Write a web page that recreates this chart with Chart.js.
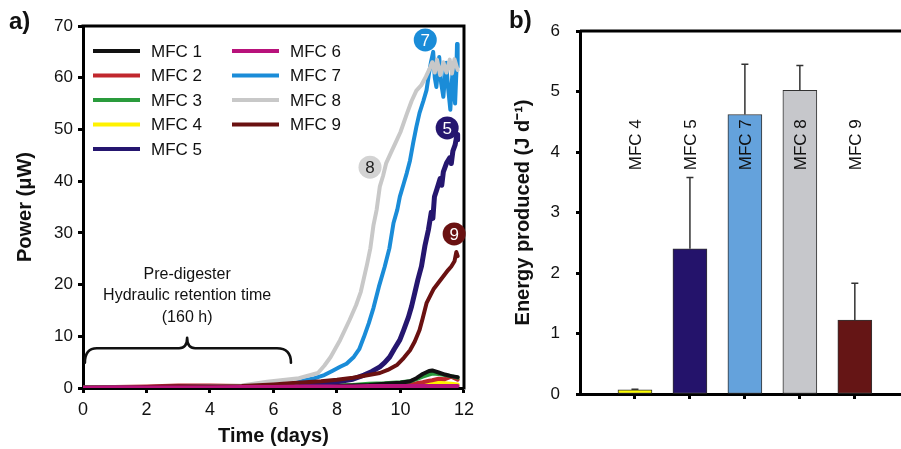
<!DOCTYPE html>
<html><head><meta charset="utf-8">
<script src="https://cdn.jsdelivr.net/npm/chart.js@4.4.1/dist/chart.umd.min.js"></script>
<style>
html,body{margin:0;padding:0;background:#fff;}
#wrap{position:relative;width:901px;height:449px;overflow:hidden;background:#fff}
#cA{position:absolute;left:0;top:0}
#cB{position:absolute;left:480px;top:0}
</style></head><body>
<div id="wrap"><canvas id="cA" width="480" height="449"></canvas><canvas id="cB" width="421" height="449"></canvas></div>
<script>
// ---------------- DATA ----------------
const seriesNames = ['MFC 1','MFC 2','MFC 3','MFC 4','MFC 5','MFC 6','MFC 7','MFC 8','MFC 9'];
const seriesColors = ['#111111','#c1272d','#2a9b3c','#fff200','#25166f','#b8127b','#1a8cd8','#c8c8c8','#6a1111'];

// Low-output cells (shared time grid, days)
const lowDays   = [0, 1, 2, 3, 4, 5, 6, 7, 8, 8.5, 9, 9.5, 10, 10.3, 10.5, 10.7, 10.9, 11.0, 11.2, 11.4, 11.6, 11.8];
const mfc1Power = [0.1,0.1,0.1,0.2,0.2,0.2,0.2,0.3,0.4,0.5,0.6,0.8,1.0,1.3,1.9,2.7,3.3,3.4,3.0,2.6,2.3,2.1];
const mfc2Power = [0.1,0.2,0.3,0.5,0.5,0.4,0.3,0.3,0.4,0.5,0.5,0.6,0.7,0.8,0.9,1.1,1.4,1.5,1.8,1.7,2.2,1.6];
const mfc3Power = [0,0,0.1,0.1,0.1,0.1,0.2,0.3,0.5,0.6,0.8,0.9,1.1,1.3,1.7,2.2,2.6,2.8,2.7,2.5,2.3,2.0];
const mfc4Power = [0,0,0,0,0,0,0.1,0.1,0.2,0.3,0.4,0.5,0.6,0.7,0.8,0.9,1.0,1.1,1.0,0.9,0.8,0.7];
const mfc6Power = [0,0.1,0.1,0.1,0.1,0.2,0.2,0.3,0.3,0.3,0.4,0.4,0.4,0.4,0.4,0.4,0.4,0.4,0.4,0.4,0.4,0.4];

// MFC 5
const mfc5Days  = [0,2,4,6,7,8,8.5,8.85,9.1,9.35,9.5,9.66,9.8,9.98,10.1,10.25,10.35,10.45,10.55,10.66,10.77,10.88,10.97,11.02,11.07,11.15,11.25,11.3,11.35,11.45,11.55,11.6,11.65,11.72,11.78,11.8];
const mfc5Power = [0,0.1,0.2,0.3,0.6,1.2,1.7,2.5,3.2,4.1,4.9,6.0,7.5,9.3,11.2,13.7,15.8,18.4,21.0,23.5,27.5,30.6,34.0,32.8,37.0,38.5,40.5,39.2,41.8,43.5,44.5,43.4,45.8,47.0,49.0,48.0];

// MFC 7
const mfc7Days  = [0,2,4,5,6,6.5,7.0,7.3,7.6,7.85,8.1,8.3,8.53,8.7,8.85,9.0,9.15,9.32,9.5,9.65,9.78,9.9,9.98,10.1,10.2,10.3,10.4,10.5,10.6,10.72,10.82,10.9,10.96,11.03,11.08,11.13,11.18,11.22,11.28,11.35,11.4,11.44,11.5,11.57,11.61,11.65,11.69,11.72,11.76,11.78,11.8];
const mfc7Power = [0,0,0,0.1,0.3,0.6,1.5,1.9,2.5,3.3,4.1,4.7,6.0,7.5,9.9,12.5,15.5,19.6,23.4,27.0,31.9,34.5,37.0,39.5,41.6,44.0,47.4,50.5,53.2,55.5,57.6,60.9,63.0,65.0,60.0,58.2,61.5,64.0,59.0,56.3,60.0,62.9,58.0,53.8,58.5,62.0,57.0,55.0,61.0,66.5,62.0];

// MFC 8
const mfc8Days  = [0,1,2,3,4,5,5.8,6.8,7.4,7.6,7.8,8.1,8.4,8.6,8.75,8.95,9.05,9.15,9.25,9.35,9.45,9.55,9.7,9.85,10.0,10.2,10.35,10.5,10.65,10.8,10.9,11.0,11.08,11.15,11.25,11.35,11.45,11.55,11.62,11.7,11.8];
const mfc8Power = [0.1,0.1,0.2,0.2,0.3,0.5,1.2,1.9,2.9,4.3,6.0,9.3,13.2,16.0,18.6,24.0,27.0,31.5,34.5,39.0,41.0,43.5,45.5,47.5,49.5,53.0,55.5,57.5,58.5,60.2,61.5,63.0,61.0,63.5,60.5,63.0,61.0,63.5,60.8,63.6,61.5];

// MFC 9
const mfc9Days  = [0,1,2,3,4,5,6,6.5,7,7.5,8,8.5,9,9.35,9.6,9.9,10.1,10.3,10.45,10.6,10.7,10.82,10.95,11.05,11.2,11.35,11.5,11.6,11.7,11.76,11.8];
const mfc9Power = [0.1,0.1,0.2,0.3,0.3,0.4,0.7,0.9,1.1,1.3,1.6,2.0,2.5,2.9,3.5,4.5,5.8,7.3,9.0,11.2,13.5,16.4,18.0,19.2,20.4,21.6,22.8,23.5,24.5,26.3,25.5];

const timeTicks  = [0,2,4,6,8,10,12];
const powerTicks = [0,10,20,30,40,50,60,70];

// Panel b
const energyLabels = ['MFC 4','MFC 5','MFC 7','MFC 8','MFC 9'];
const energyValues = [0.07, 2.40, 4.62, 5.02, 1.22];
const energyErrors = [0.01, 1.18, 0.83, 0.41, 0.61];
const energyColors = ['#ffff00','#24136b','#64a2dc','#c6c7cb','#651515'];
const energyTicks  = [0,1,2,3,4,5,6];

// ---------------- CHART A ----------------
const FONT = "'Liberation Sans', Arial, Helvetica, sans-serif";
Chart.defaults.font.family = FONT;
Chart.defaults.color = '#111';

function pts(days, vals){ return days.map((d,i)=>({x:d, y:vals[i]})); }
const seriesData = [
  pts(lowDays, mfc1Power), pts(lowDays, mfc2Power), pts(lowDays, mfc3Power), pts(lowDays, mfc4Power),
  pts(mfc5Days, mfc5Power), pts(lowDays, mfc6Power), pts(mfc7Days, mfc7Power), pts(mfc8Days, mfc8Power),
  pts(mfc9Days, mfc9Power)
];
const drawOrder = [5, 7, 6, 8, 4, 0, 3, 2, 1]; // lower = on top
const datasetsA = seriesNames.map((n,i)=>({
  label: n, data: seriesData[i], borderColor: seriesColors[i], backgroundColor: seriesColors[i],
  borderWidth: i===4 ? 5 : 4, pointRadius: 0, tension: 0, fill: false, order: drawOrder[i],
  borderJoinStyle: 'round', borderCapStyle: 'round'
}));

const bubbles = [
  {text:'7', t:10.78, v:67.3, fill:'#1a8cd8', color:'#fff'},
  {text:'5', t:11.47, v:50.3, fill:'#25166f', color:'#fff'},
  {text:'8', t:9.04,  v:42.7, fill:'#d3d3d3', color:'#222'},
  {text:'9', t:11.69, v:29.8, fill:'#6a1111', color:'#fff'}
];

const panelAPlugin = {
  id: 'panelA',
  afterDraw(chart){
    const ctx = chart.ctx, ca = chart.chartArea, xs = chart.scales.x, ys = chart.scales.y;
    ctx.save();
    // box top/right
    ctx.strokeStyle = '#000'; ctx.lineWidth = 3; ctx.lineCap = 'square';
    ctx.beginPath(); ctx.moveTo(ca.left, ca.top); ctx.lineTo(ca.right, ca.top); ctx.lineTo(ca.right, ca.bottom); ctx.stroke();
    // panel label
    ctx.fillStyle = '#111'; ctx.font = 'bold 24px ' + FONT; ctx.textBaseline = 'middle'; ctx.textAlign = 'left';
    ctx.fillText('a)', 9, 22);
    // legend
    const cols = [[0,1,2,3,4],[5,6,7,8]];
    const colX = [ca.left + 10, ca.left + 149];
    ctx.font = '17px ' + FONT; ctx.lineCap = 'butt';
    cols.forEach((col, c)=>{
      col.forEach((si, r)=>{
        const y = 51 + r*24.5;
        ctx.strokeStyle = seriesColors[si]; ctx.lineWidth = 4;
        ctx.beginPath(); ctx.moveTo(colX[c], y); ctx.lineTo(colX[c]+47, y); ctx.stroke();
        ctx.fillStyle = '#111'; ctx.fillText(seriesNames[si], colX[c]+58, y+1);
      });
    });
    // brace
    const x0 = xs.getPixelForValue(0.06), xm = xs.getPixelForValue(3.28), x1 = xs.getPixelForValue(6.55);
    const yEnd = ys.getPixelForValue(4.9), yBar = ys.getPixelForValue(7.7), yTip = ys.getPixelForValue(9.7);
    const r = 12;
    ctx.strokeStyle = '#111'; ctx.lineWidth = 2.6; ctx.lineCap = 'round'; ctx.lineJoin = 'round';
    ctx.beginPath();
    ctx.moveTo(x0, yEnd);
    ctx.quadraticCurveTo(x0, yBar, x0 + r, yBar);
    ctx.lineTo(xm - 8, yBar);
    ctx.quadraticCurveTo(xm, yBar, xm, yTip);
    ctx.quadraticCurveTo(xm, yBar, xm + 8, yBar);
    ctx.lineTo(x1 - 14, yBar);
    ctx.quadraticCurveTo(x1, yBar, x1, yEnd);
    ctx.stroke();
    // annotation text
    ctx.fillStyle = '#111'; ctx.font = '16px ' + FONT; ctx.textAlign = 'center'; ctx.textBaseline = 'middle';
    ctx.fillText('Pre-digester', xm, ys.getPixelForValue(21.9));
    ctx.fillText('Hydraulic retention time', xm, ys.getPixelForValue(17.8));
    ctx.fillText('(160 h)', xm, ys.getPixelForValue(13.7));
    // bubbles
    bubbles.forEach(b=>{
      const bx = xs.getPixelForValue(b.t), by = ys.getPixelForValue(b.v);
      ctx.fillStyle = b.fill; ctx.beginPath(); ctx.arc(bx, by, 11.5, 0, Math.PI*2); ctx.fill();
      ctx.fillStyle = b.color; ctx.font = '17px ' + FONT; ctx.fillText(b.text, bx, by+1);
    });
    ctx.restore();
  }
};

new Chart(document.getElementById('cA'), {
  type: 'line',
  data: { datasets: datasetsA },
  options: {
    responsive: false, animation: false, devicePixelRatio: 1,
    layout: { padding: { top: 26, right: 11, left: 0, bottom: 0 } },
    plugins: { legend: { display: false }, tooltip: { enabled: false } },
    scales: {
      x: {
        type: 'linear', min: 0, max: 12,
        afterBuildTicks: s => { s.ticks = timeTicks.map(v=>({value:v})); },
        afterFit: s => { s.height = 61; },
        ticks: { font: { size: 18 }, padding: 6, color: '#111', maxRotation: 0 },
        grid: { display: true, drawOnChartArea: false, drawTicks: true, tickLength: 5, tickWidth: 3, tickColor: '#000' },
        border: { display: true, width: 3, color: '#000' },
        title: { display: true, text: 'Time (days)', font: { size: 20, weight: 'bold' }, color: '#111', padding: { top: 0, bottom: 1 } }
      },
      y: {
        type: 'linear', min: 0, max: 70,
        afterBuildTicks: s => { s.ticks = powerTicks.map(v=>({value:v})); },
        afterFit: s => { s.width = 83; },
        ticks: { font: { size: 17 }, padding: 5, color: '#111' },
        grid: { display: true, drawOnChartArea: false, drawTicks: true, tickLength: 5, tickWidth: 3, tickColor: '#000' },
        border: { display: true, width: 3, color: '#000' },
        title: { display: true, text: 'Power (\u03BCW)', font: { size: 20, weight: 'bold' }, color: '#111', padding: { top: 13, bottom: 0 } }
      }
    }
  },
  plugins: [panelAPlugin]
});

// ---------------- CHART B ----------------
const panelBPlugin = {
  id: 'panelB',
  afterDatasetsDraw(chart){
    const ctx = chart.ctx, ys = chart.scales.y;
    const meta = chart.getDatasetMeta(0);
    ctx.save();
    meta.data.forEach((bar, i)=>{
      const x = bar.x, yTop = ys.getPixelForValue(energyValues[i] + energyErrors[i]);
      ctx.strokeStyle = '#333'; ctx.lineWidth = 1.5;
      ctx.beginPath(); ctx.moveTo(x, bar.y); ctx.lineTo(x, yTop);
      ctx.moveTo(x - 3.5, yTop); ctx.lineTo(x + 3.5, yTop); ctx.stroke();
      ctx.save();
      ctx.translate(x + 1, ys.getPixelForValue(4.12));
      ctx.rotate(-Math.PI/2);
      ctx.fillStyle = '#111'; ctx.font = '17px ' + FONT; ctx.textAlign = 'center'; ctx.textBaseline = 'middle';
      ctx.fillText(energyLabels[i], 0, 0);
      ctx.restore();
    });
    ctx.restore();
  },
  afterDraw(chart){
    const ctx = chart.ctx, ca = chart.chartArea;
    ctx.save();
    ctx.strokeStyle = '#000'; ctx.lineWidth = 3;
    ctx.beginPath(); ctx.moveTo(ca.left, ca.top); ctx.lineTo(ca.right + 2, ca.top); ctx.stroke();
    ctx.fillStyle = '#111'; ctx.font = 'bold 24px ' + FONT; ctx.textBaseline = 'middle'; ctx.textAlign = 'left';
    ctx.fillText('b)', 29, 21);
    ctx.restore();
  }
};

new Chart(document.getElementById('cB'), {
  type: 'bar',
  data: {
    datasets: [{
      data: energyValues.map((v,i)=>({x: i+1, y: v})),
      backgroundColor: energyColors, borderColor: '#333', borderWidth: 1,
      barThickness: 34, borderSkipped: false
    }]
  },
  options: {
    responsive: false, animation: false, devicePixelRatio: 1,
    layout: { padding: { top: 31, right: 0, left: 0, bottom: 0 } },
    plugins: { legend: { display: false }, tooltip: { enabled: false } },
    scales: {
      x: {
        type: 'linear', min: 0, max: 5.84, offset: false,
        afterBuildTicks: s => { s.ticks = energyLabels.map((_,i)=>({value:i+1})); },
        afterFit: s => { s.height = 55; },
        ticks: { callback: () => '', font: { size: 10 } },
        grid: { display: true, offset: false, drawOnChartArea: false, drawTicks: true, tickLength: 5, tickWidth: 3, tickColor: '#000' },
        border: { display: true, width: 3, color: '#000' }
      },
      y: {
        type: 'linear', min: 0, max: 6,
        afterBuildTicks: s => { s.ticks = energyTicks.map(v=>({value:v})); },
        afterFit: s => { s.width = 100; },
        ticks: { font: { size: 17 }, padding: 16, color: '#111' },
        grid: { display: true, drawOnChartArea: false, drawTicks: true, tickLength: 4, tickWidth: 3, tickColor: '#000' },
        border: { display: true, width: 3, color: '#000' },
        title: { display: true, text: 'Energy produced (J d\u207B\u00B9)', font: { size: 20, weight: 'bold' }, color: '#111', padding: { top: 31, bottom: 0 } }
      }
    }
  },
  plugins: [panelBPlugin]
});
</script>
</body></html>
